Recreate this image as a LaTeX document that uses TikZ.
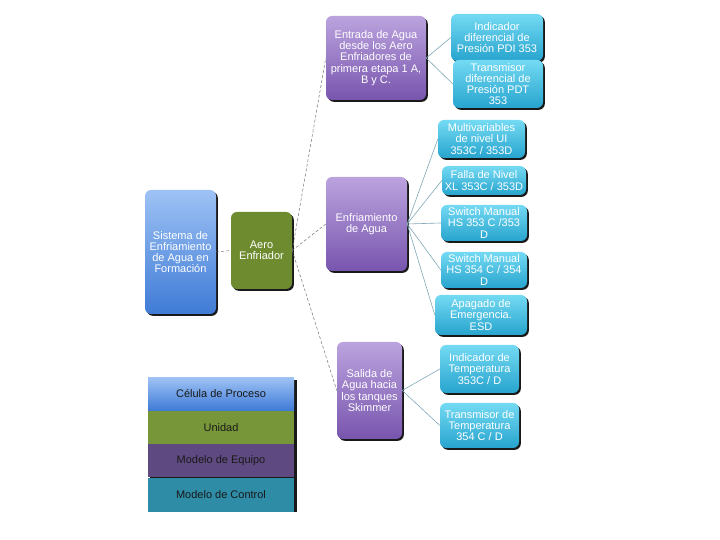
\documentclass[tikz,border=0pt]{standalone}
\usepackage{fontspec}
\setmainfont{Liberation Sans}
\usepackage{tikz}
\usetikzlibrary{positioning,shadows}
\definecolor{rootA}{HTML}{9EC2F5}
\definecolor{rootB}{HTML}{3F7BD6}
\definecolor{olive}{HTML}{6F8B2F}
\definecolor{purA}{HTML}{BBA3DE}
\definecolor{purB}{HTML}{7855AE}
\definecolor{cyanA}{HTML}{74DAF3}
\definecolor{cyanB}{HTML}{27A4CE}
\definecolor{legG}{HTML}{77963A}
\definecolor{legP}{HTML}{5E4A80}
\definecolor{legT}{HTML}{2E8CA6}
\definecolor{wire}{HTML}{7FA8B8}
\tikzset{
  box/.style={rounded corners=6pt, align=center, inner sep=2pt, text=white,
              font=\fontsize{11}{11.2}\selectfont,
              drop shadow={shadow xshift=1.8pt, shadow yshift=-1.8pt,
                           fill=black!90, opacity=1}},
  rootfill/.style={top color=rootA, bottom color=rootB},
  aerofill/.style={fill=olive},
  subfill/.style={top color=purA, bottom color=purB},
  leaffill/.style={top color=cyanA, bottom color=cyanB},
  band/.style={minimum width=146pt, minimum height=33pt, inner sep=0pt,
               font=\fontsize{11}{11.2}\selectfont, text=black!90},
  tree/.style={draw=black!55, dash pattern=on 3pt off 2pt, line width=0.5pt},
  link/.style={draw=wire, line width=0.6pt},
}
\begin{document}
\begin{tikzpicture}[x=1pt,y=1pt]
    \useasboundingbox (0,0) rectangle (720,540);
    % tree
    \node[box,rootfill,minimum width=71pt,minimum height=124pt] (root) at (180.5,288)
      {Sistema de\\Enfriamiento\\de Agua en\\Formación};
    \node[box,aerofill,minimum width=61pt,minimum height=77pt] (aero) at (261.5,289.5)
      {Aero\\Enfriador};
    \node[box,subfill,minimum width=100pt,minimum height=84pt] (entrada) at (376,482)
      {Entrada de Agua\\desde los Aero\\Enfriadores de\\primera etapa 1 A,\\B y C.};
    \node[box,subfill,minimum width=81pt,minimum height=94pt] (enfri) at (366.5,316)
      {Enfriamiento\\de Agua};
    \node[box,subfill,minimum width=65pt,minimum height=97pt] (salida) at (369.5,149.5)
      {Salida de\\Agua hacia\\los tanques\\Skimmer};
    \node[box,leaffill,minimum width=92pt,minimum height=47pt] (pdi) at (497,502.5)
      {Indicador\\diferencial de\\Presión PDI 353};
    \node[box,leaffill,minimum width=90pt,minimum height=48pt] (pdt) at (498,456)
      {Transmisor\\diferencial de\\Presión PDT\\353};
    \node[box,leaffill,minimum width=87pt,minimum height=38pt] (ui) at (481.5,401)
      {Multivariables\\de nivel UI\\353C / 353D};
    \node[box,leaffill,minimum width=84pt,minimum height=29pt] (xl) at (484,359.5)
      {Falla de Nivel\\XL 353C / 353D};
    \node[box,leaffill,minimum width=86pt,minimum height=36pt] (hsa) at (484,317)
      {Switch Manual\\HS 353 C /353\\D};
    \node[box,leaffill,minimum width=86pt,minimum height=36pt] (hsb) at (484,270)
      {Switch Manual\\HS 354 C / 354\\D};
    \node[box,leaffill,minimum width=92pt,minimum height=40pt] (esd) at (481,225)
      {Apagado de\\Emergencia.\\ESD};
    \node[box,leaffill,minimum width=79pt,minimum height=48pt] (ti) at (479.5,171)
      {Indicador de\\Temperatura\\353C / D};
    \node[box,leaffill,minimum width=79pt,minimum height=45pt] (tt) at (479.5,114.5)
      {Transmisor de\\Temperatura\\354 C / D};
    \draw[tree] (root.east)--(aero.west);
    \draw[tree] (aero.east)--(entrada.west); \draw[tree] (aero.east)--(enfri.west);
    \draw[tree] (aero.east)--(salida.west);
    \draw[link] (entrada.east)--(pdi.west); \draw[link] (entrada.east)--(pdt.west);
    \draw[link] (enfri.east)--(ui.west); \draw[link] (enfri.east)--(xl.west);
    \draw[link] (enfri.east)--(hsa.west); \draw[link] (enfri.east)--(hsb.west);
    \draw[link] (enfri.east)--(esd.west);
    \draw[link] (salida.east)--(ti.west); \draw[link] (salida.east)--(tt.west);
    % legend
    \fill[black!90] (150,27.5) rectangle (296.5,160);
    \node[band,top color=rootA,bottom color=rootB] (leg1) at (221,146) {Célula de Proceso};
    \node[band,fill=legG,below=0pt of leg1] (leg2) {Unidad};
    \node[band,fill=legP,below=0pt of leg2] (leg3) {Modelo de Equipo};
    \node[band,fill=legT,below=0pt of leg3,minimum height=34pt] (leg4) {Modelo de Control};
  \end{tikzpicture}
\end{document}
